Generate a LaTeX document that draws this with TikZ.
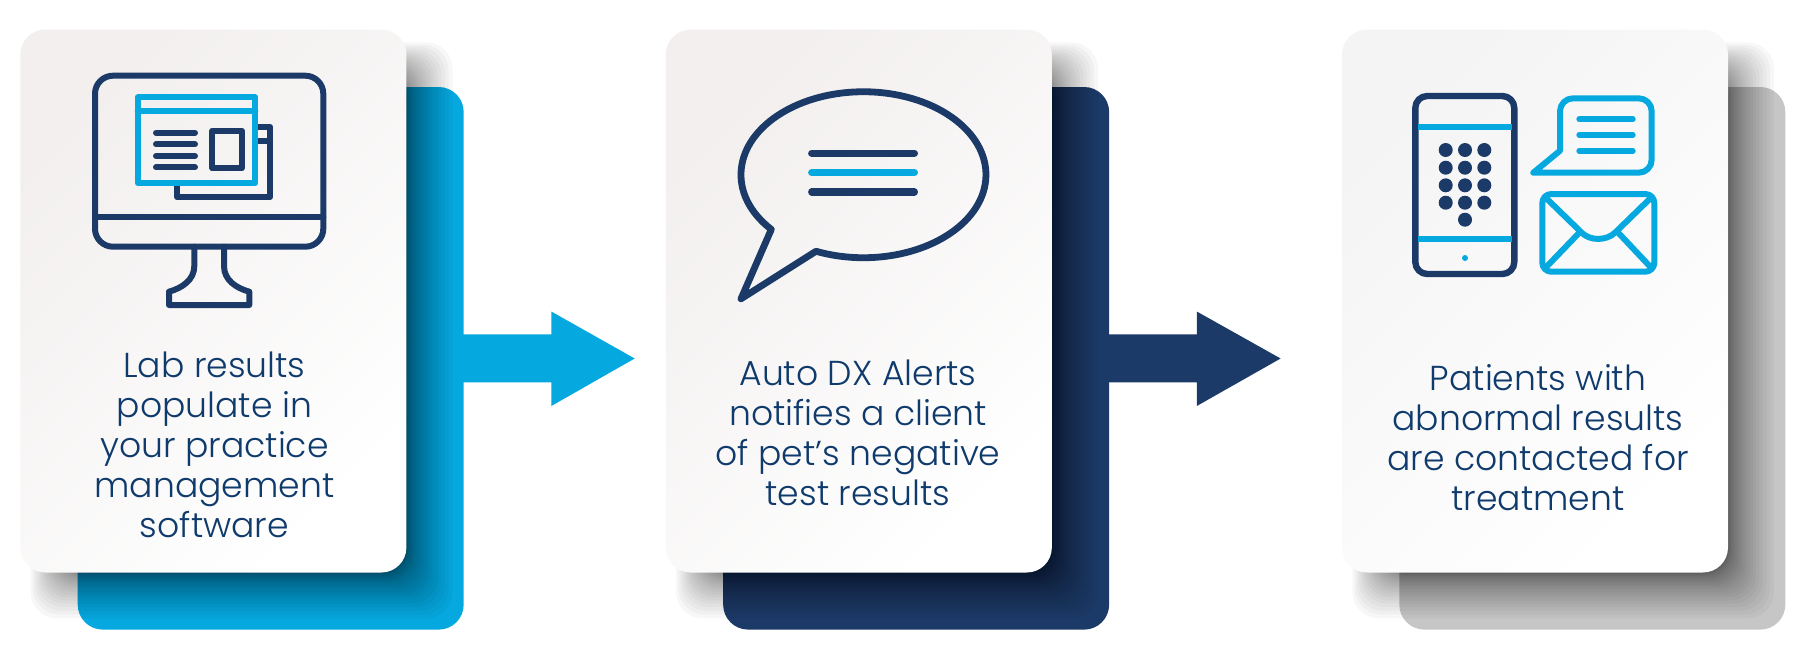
\documentclass[tikz,border=0pt]{standalone}
\usepackage{fontspec}
\setmainfont{Poppins}[UprightFont=* Light]
\definecolor{skyblue}{HTML}{06A8E0}
\definecolor{navyblue}{HTML}{1C3A68}
\definecolor{inkblue}{HTML}{0F3A6C}
\definecolor{panelgray}{HTML}{C6C6C6}
\definecolor{cardwarm}{HTML}{F2EFEE}
\definecolor{cardcool}{HTML}{F4F4F5}
\tikzset{
  backpanel/.style={rounded corners=12.5pt,minimum width=193pt,minimum height=271.3pt,inner sep=0pt},
  card/.style={rounded corners=12.5pt,minimum width=193pt,minimum height=271.5pt,inner sep=0pt,
    top color=#1,middle color=#1!50!white,bottom color=white,shading angle=45},
  caption/.style={align=center,text=inkblue,font=\fontsize{17.3pt}{20pt}\selectfont},
  navyline/.style={draw=navyblue,line width=3pt,line join=round,line cap=round},
  skyline/.style={draw=skyblue,line width=3pt,line join=round,line cap=round}
}

\begin{document}
\begin{tikzpicture}[x=0.5pt,y=-0.5pt]
\useasboundingbox (0,0) rectangle (1800,660);

% Panels, shadows and cards
\foreach \nm/\xa/\xb/\col/\tint in {A/20.2/406.6/skyblue/cardwarm,B/665.7/1052/navyblue/cardwarm,C/1342/1728/panelgray/cardcool}{
  \node[backpanel,fill=\col] (back\nm) at ({(\xa+\xb)/2+57.3},358.3) {};
  \foreach \i in {1,...,24}{
    \pgfmathsetmacro{\grow}{50*(1-\i/24)^2}
    \fill[black,opacity=0.032,rounded corners=13pt] ({\xa+38-\grow*0.6},{70-\grow*0.6}) rectangle ({\xb+\grow},{572.4+\grow});
  }
  \node[card=\tint] (card\nm) at ({(\xa+\xb)/2},301) {};
}

% Block arrows
\coordinate (tipA) at (634.7,358.5);
\coordinate (tipB) at (1280.6,358.5);
\fill[skyblue] ([xshift=-2pt,yshift=12pt]backA.east) -- (551.3,334.3) -- (551.3,311.5) -- (tipA) -- (551.3,406) -- (551.3,382.3) -- ([xshift=-2pt,yshift=-12pt]backA.east) -- cycle;
\fill[navyblue] ([xshift=-2pt,yshift=12pt]backB.east) -- (1196.8,334.3) -- (1196.8,311.5) -- (tipB) -- (1196.8,406) -- (1196.8,382.3) -- ([xshift=-2pt,yshift=-12pt]backB.east) -- cycle;

% Captions
\node[caption] (textA) at (214.5,445) {Lab results\\populate in\\your practice\\management\\software};
\node[caption] (textB) at (858,433) {Auto DX Alerts\\notifies a client\\of pet’s negative\\test results};
\node[caption] (textC) at (1538,438) {Patients with\\abnormal results\\are contacted for\\treatment};

% Monitor
\draw[navyline,rounded corners=9pt] (95,75.7) rectangle (323.3,246.7);
\draw[navyline] (95,217.3) -- (323.3,217.3);
\draw[navyline] (194.3,246.7) -- (194.3,266) .. controls (194.3,280) and (182,288) .. (169,291.7) -- (169,305) -- (249.3,305) -- (249.3,291.7) .. controls (236,288) and (224,280) .. (224,266) -- (224,246.7);
\draw[navyline] (255.3,126.7) -- (270,126.7) -- (270,197.3) -- (177.3,197.3) -- (177.3,183.3);
\draw[navyline] (255.3,140.7) -- (270,140.7);
\draw[skyline] (137.7,97.3) rectangle (255.3,183.3);
\draw[skyline] (137.7,110.7) -- (255.3,110.7);
\foreach \y in {132.7,144.3,156,167.3}
  \draw[navyline] (156,\y) -- (195,\y); % text rows
\draw[navyline] (212.3,130.7) rectangle (241.7,168.3);

% Speech bubble
\draw[navyline,line width=3.4pt] (771.3,229.4) arc[start angle=221.2,end angle=-112.8,x radius=61.25pt,y radius=41.5pt] -- (741,298.8) -- cycle;
\draw[navyline,line width=3.6pt] (811.7,153.2) -- (914.4,153.2);
\draw[skyline,line width=3.6pt] (811.7,172.6) -- (914.4,172.6);
\draw[navyline,line width=3.6pt] (811.7,191.9) -- (914.4,191.9);

% Phone
\foreach \y in {150,167.7,185.3,202.7}
  \foreach \x in {1445.7,1465,1484.3}
    \fill[navyblue] (\x,\y) circle (3.5pt);
\fill[navyblue] (1465,219.7) circle (3.5pt);
\draw[navyline,line width=3.2pt,rounded corners=6pt] (1415.3,96) rectangle (1514.3,274);
\draw[skyline,line cap=butt] (1418,126.7) -- (1511.6,126.7);
\draw[skyline,line cap=butt] (1418,239.3) -- (1511.6,239.3);
\fill[skyblue] (1465,258) circle (1.5pt);

% Chat bubble
\draw[skyline] (1533.3,172.7) -- (1560,150.7) [rounded corners=6.5pt] -- (1560,98.3) -- (1651.7,98.3) -- (1651.7,172.7) -- (1600,172.7) [sharp corners] -- cycle;
\foreach \y in {119.3,135,151}
  \draw[skyline] (1579.3,\y) -- (1632.7,\y);

% Envelope
\draw[skyline,rounded corners=4.5pt] (1542.3,194) rectangle (1654.3,271.7);
\draw[skyline] (1545,197) -- (1581.7,232.7) .. controls (1590,241) and (1606,241) .. (1615,232.7) -- (1651.7,197);
\draw[skyline] (1579.3,232.7) -- (1545,268.3);
\draw[skyline] (1617.3,231.7) -- (1651.7,268.3);

\end{tikzpicture}
\end{document}
